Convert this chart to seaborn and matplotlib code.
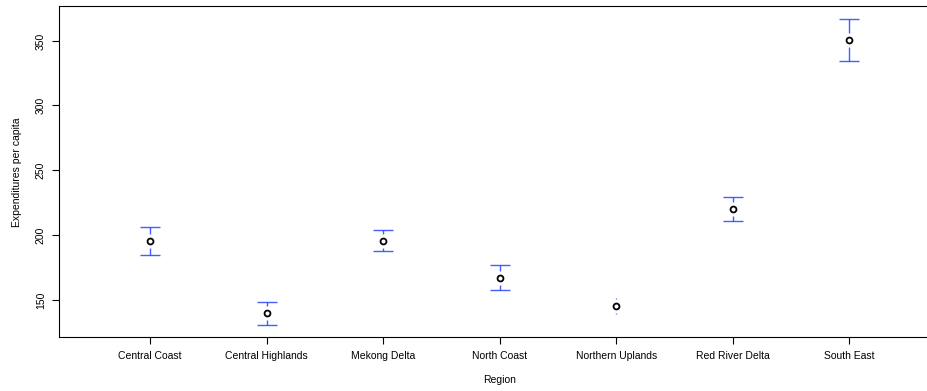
import numpy as np
import pandas as pd
import matplotlib
matplotlib.use("Agg")
import matplotlib.pyplot as plt
import seaborn as sns

# Mean expenditure per capita by region with 95% confidence limits
regions = ["Central Coast", "Central Highlands", "Mekong Delta", "North Coast",
           "Northern Uplands", "Red River Delta", "South East"]
means = [195.6, 139.5, 195.6, 167.0, 145.0, 219.6, 350.5]
ci_lower = [184.8, 130.4, 187.6, 157.7, 138.6, 210.3, 334.2]
ci_upper = [206.4, 148.0, 204.1, 176.6, 151.4, 229.4, 366.9]
y_ticks = [150, 200, 250, 300, 350]

df = pd.DataFrame({"Region": regions, "mean": means,
                   "lo": ci_lower, "hi": ci_upper})
df["pos"] = np.arange(1, len(df) + 1)

sns.set_style("ticks")
plt.rcParams["font.family"] = ["Liberation Sans", "DejaVu Sans"]
plt.rcParams["text.color"] = "black"
plt.rcParams["axes.labelcolor"] = "black"
plt.rcParams["xtick.color"] = "black"
plt.rcParams["ytick.color"] = "black"

DPI = 100
W, H = 927, 391
# small epsilon so the pixel size does not round down
fig = plt.figure(figsize=((W + 0.3) / DPI, (H + 0.3) / DPI), dpi=DPI)

# Plot region in pixels: left edge, top and bottom edges, 116.5 px per group
left_px, top_px, bottom_px = 59.3, 6.7, 337.3
x0, x1 = 0.22, 7.78
unit_px = 116.5
width_px = (x1 - x0) * unit_px
ax = fig.add_axes([left_px / W, (H - bottom_px) / H,
                   width_px / W, (bottom_px - top_px) / H])

ax.set_xlim(x0, x1)
ax.set_ylim(120.9, 376.4)

px_y = (376.4 - 120.9) / (bottom_px - top_px)
px_x = 1.0 / unit_px
gap = 7.0 * px_y
cap = 10 * px_x

blue = "#2244ff"
for _, r in df.iterrows():
    for end, sign in ((r["hi"], 1), (r["lo"], -1)):
        start = r["mean"] + sign * gap
        length = (end - start) * sign
        if length <= 0:
            continue
        ax.vlines(r["pos"], start, end, color=blue, lw=1.0, alpha=0.85)
        if length > 2.5 * px_y:
            ax.hlines(end, r["pos"] - cap, r["pos"] + cap, color=blue,
                      lw=1.0, alpha=0.85)

sns.scatterplot(data=df, x="pos", y="mean", ax=ax, marker="o", s=18,
                facecolor="white", edgecolor="black", linewidth=1.3, zorder=5)

ax.set_xticks(df["pos"])
ax.set_xticklabels(regions)
ax.set_yticks(y_ticks)
ax.set_yticklabels([str(t) for t in y_ticks], rotation=90, va="center")
ax.tick_params(axis="both", labelsize=7.5, length=4.7, width=0.8,
               color="black", labelcolor="black", pad=5)
ax.set_xlabel("Region", fontsize=7.5, labelpad=10)
ax.set_ylabel("Expenditures per capita", fontsize=7.5, labelpad=10)

for name in ("left", "bottom", "top"):
    ax.spines[name].set_color("black")
    ax.spines[name].set_linewidth(0.8)
ax.spines["right"].set_visible(False)

fig.savefig("out.png", dpi=DPI)
